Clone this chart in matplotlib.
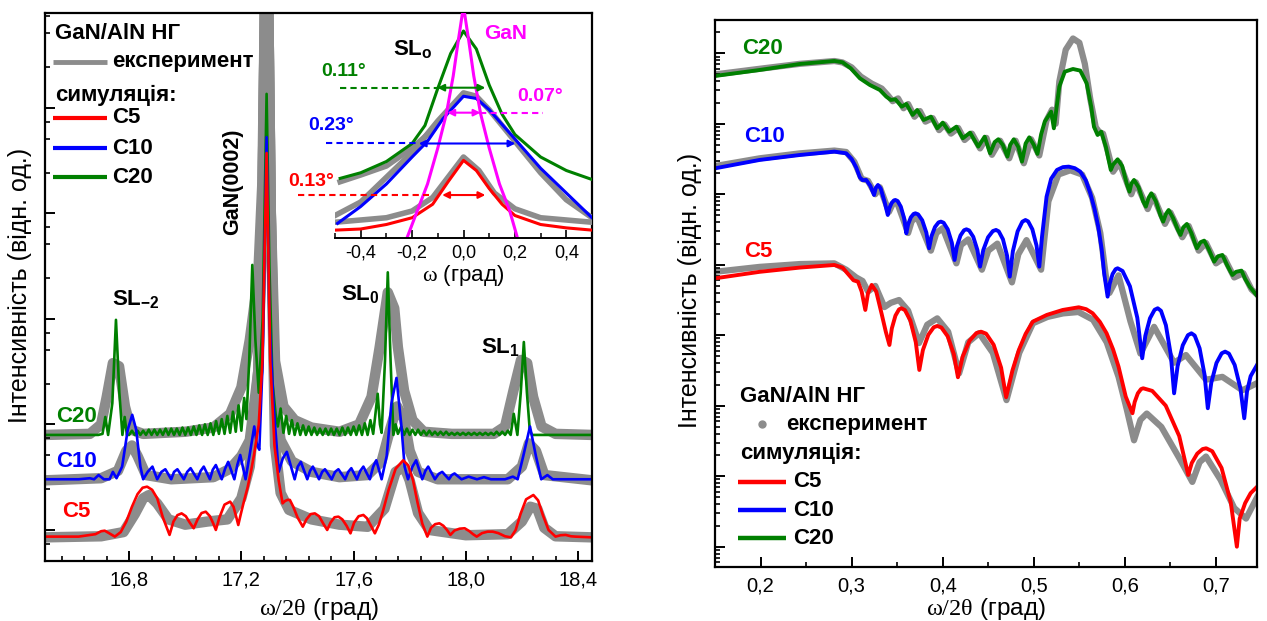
import matplotlib
matplotlib.use('Agg')
import matplotlib.pyplot as plt
import numpy as np
from matplotlib.ticker import MultipleLocator, FixedLocator, FuncFormatter

plt.rcParams['font.family'] = ['Liberation Sans', 'DejaVu Sans']
plt.rcParams['mathtext.fontset'] = 'custom'
plt.rcParams['mathtext.rm'] = 'Liberation Serif'
plt.rcParams['mathtext.it'] = 'Liberation Serif:italic'
plt.rcParams['mathtext.bf'] = 'Liberation Sans:bold'

# ---------------- data: left panel (x = omega/2theta, y = log10 intensity, arb.) -------------
C20_SIM = [(16.50,0.90),(16.69,0.90),(16.705,0.91),(16.715,1.07),(16.725,0.90),(16.740,1.20),(16.753,1.99),
 (16.765,1.30),(16.776,0.90),(16.784,1.07),(16.792,0.90),
 (16.800,0.90),(16.810,0.94),(16.820,0.90),(16.830,0.94),(16.840,0.90),(16.850,0.94),(16.860,0.90),(16.870,0.95),
 (16.880,0.90),(16.890,0.95),(16.900,0.90),(16.910,0.95),(16.920,0.90),(16.930,0.96),(16.940,0.90),(16.950,0.96),
 (16.960,0.90),(16.970,0.96),(16.980,0.90),(16.990,0.97),(17.000,0.90),(17.010,0.97),(17.020,0.90),(17.030,0.98),
 (17.040,0.90),(17.050,0.99),(17.060,0.90),(17.070,1.00),(17.080,0.90),(17.090,1.01),(17.100,0.90),(17.110,1.03),
 (17.120,0.91),(17.130,1.05),(17.140,0.91),(17.150,1.08),(17.160,0.92),(17.170,1.12),(17.180,0.93),(17.190,1.18),
 (17.200,0.94),(17.210,1.25),(17.218,1.05),(17.228,1.60),(17.239,2.51),(17.250,1.80),(17.262,1.30),(17.276,2.00),
 (17.290,4.13),(17.300,2.50),(17.311,1.40),(17.322,1.10),(17.330,0.98),(17.340,1.15),(17.350,0.92),(17.360,1.08),
 (17.370,0.91),(17.380,1.04),(17.390,0.90),(17.400,1.01),(17.410,0.90),(17.420,0.99),(17.430,0.90),(17.440,0.98),
 (17.450,0.90),(17.460,0.97),(17.470,0.90),(17.480,0.96),(17.490,0.90),(17.500,0.96),(17.510,0.90),(17.520,0.96),
 (17.530,0.90),(17.540,0.96),(17.550,0.90),(17.560,0.97),(17.570,0.90),(17.580,0.97),(17.590,0.90),(17.600,0.98),
 (17.610,0.90),(17.620,0.99),(17.630,0.90),(17.640,1.01),(17.650,0.90),(17.660,1.04),(17.670,0.91),(17.678,1.10),
 (17.686,1.29),(17.694,1.00),(17.700,0.92),(17.712,1.60),(17.722,2.44),(17.732,1.60),(17.742,0.90),(17.750,1.00),
 (17.758,0.91),(17.770,0.98),(17.780,0.90),(17.790,0.96),(17.800,0.90),(17.810,0.95),(17.820,0.90),(17.830,0.95),
 (17.840,0.90),(17.850,0.94),(17.860,0.90),(17.870,0.94),(17.880,0.90),(17.890,0.93),(17.900,0.90),(17.910,0.93),
 (17.920,0.90),(17.930,0.93),(17.940,0.90),(17.950,0.92),(17.960,0.90),(17.970,0.92),(17.980,0.90),(17.990,0.92),
 (18.000,0.90),(18.010,0.92),(18.020,0.90),(18.030,0.92),(18.040,0.90),(18.050,0.92),(18.060,0.90),(18.070,0.92),
 (18.080,0.90),(18.090,0.92),(18.100,0.90),(18.110,0.93),(18.120,0.90),(18.130,0.93),(18.140,0.90),(18.150,0.94),
 (18.160,0.90),(18.171,1.10),(18.184,0.90),(18.196,1.30),(18.207,1.78),(18.218,1.30),(18.228,0.95),(18.236,0.90),
 (18.45,0.90)]

C10_SIM = [(16.50,0.48),(16.62,0.48),(16.66,0.49),(16.675,0.48),(16.691,0.52),(16.71,0.48),(16.730,0.48),(16.742,0.55),
 (16.755,0.49),(16.775,0.60),(16.795,0.95),(16.811,1.09),(16.825,0.95),(16.840,0.60),(16.850,0.48),(16.866,0.55),
 (16.883,0.60),(16.900,0.48),(16.915,0.55),(16.929,0.575),(16.950,0.48),(16.960,0.55),(16.972,0.575),(16.995,0.48),
 (17.007,0.55),(17.019,0.585),(17.043,0.48),(17.055,0.56),(17.066,0.60),(17.088,0.48),(17.098,0.57),(17.109,0.615),
 (17.130,0.48),(17.142,0.58),(17.153,0.645),(17.175,0.48),(17.186,0.62),(17.196,0.71),(17.215,0.48),(17.232,0.75),
 (17.246,0.98),(17.256,0.80),(17.264,0.76),(17.276,1.60),(17.290,3.72),(17.300,2.00),(17.315,1.17),(17.333,0.55),
 (17.348,0.68),(17.362,0.74),(17.390,0.48),(17.401,0.60),(17.412,0.645),(17.435,0.48),(17.445,0.56),(17.455,0.60),
 (17.477,0.48),(17.488,0.55),(17.498,0.575),(17.522,0.48),(17.534,0.55),(17.546,0.575),(17.570,0.48),(17.581,0.55),
 (17.592,0.585),(17.612,0.48),(17.624,0.56),(17.635,0.60),(17.658,0.48),(17.670,0.60),(17.681,0.66),(17.700,0.48),
 (17.718,0.70),(17.735,1.20),(17.753,1.44),(17.770,1.00),(17.782,0.60),(17.794,0.48),(17.810,0.60),(17.823,0.66),
 (17.845,0.48),(17.856,0.56),(17.866,0.60),(17.890,0.48),(17.903,0.53),(17.916,0.55),(17.940,0.48),(17.950,0.52),
 (17.960,0.535),(17.985,0.48),(18.010,0.505),(18.040,0.48),(18.065,0.50),(18.090,0.48),(18.140,0.48),(18.168,0.505),
 (18.185,0.48),(18.205,0.70),(18.229,0.98),(18.250,0.70),(18.269,0.48),(18.291,0.52),(18.310,0.48),(18.45,0.48)]

C5_SIM = [(16.50,-0.063),(16.62,-0.063),(16.68,-0.04),(16.700,-0.012),(16.713,-0.007),(16.728,-0.03),(16.749,-0.063),
 (16.770,-0.02),(16.790,0.08),(16.810,0.22),(16.830,0.34),(16.848,0.40),(16.864,0.41),(16.882,0.38),(16.900,0.30),
 (16.920,0.12),(16.944,-0.047),(16.958,0.08),(16.972,0.14),(16.987,0.157),(17.002,0.13),(17.016,0.07),(17.030,0.016),
 (17.044,0.10),(17.058,0.16),(17.073,0.173),(17.088,0.13),(17.100,0.06),(17.109,0.000),(17.122,0.12),(17.140,0.24),
 (17.160,0.268),(17.172,0.22),(17.182,0.12),(17.189,0.047),(17.198,0.15),(17.210,0.28),(17.222,0.40),(17.234,0.55),
 (17.246,0.725),(17.262,1.00),(17.275,1.60),(17.290,3.57),(17.303,1.60),(17.318,0.80),(17.333,0.47),(17.347,0.252),
 (17.356,0.275),(17.365,0.285),(17.373,0.284),(17.385,0.22),(17.400,0.12),(17.419,0.031),(17.432,0.10),(17.447,0.15),
 (17.462,0.157),(17.477,0.13),(17.492,0.06),(17.506,0.000),(17.518,0.07),(17.532,0.12),(17.546,0.126),(17.560,0.10),
 (17.575,0.04),(17.589,-0.032),(17.602,0.07),(17.618,0.13),(17.635,0.142),(17.648,0.11),(17.662,0.04),(17.676,-0.032),
 (17.690,0.05),(17.705,0.18),(17.725,0.38),(17.750,0.58),(17.777,0.66),(17.795,0.61),(17.812,0.47),(17.828,0.26),
 (17.845,0.06),(17.863,-0.063),(17.876,0.02),(17.891,0.055),(17.906,0.063),(17.920,0.04),(17.933,0.00),(17.945,-0.047),
 (17.960,-0.005),(17.978,0.012),(17.996,0.016),(18.012,-0.01),(18.026,-0.04),(18.039,-0.063),(18.058,-0.03),
 (18.078,-0.016),(18.096,-0.016),(18.116,-0.03),(18.140,-0.06),(18.161,-0.070),(18.178,0.00),(18.195,0.15),
 (18.215,0.29),(18.241,0.331),(18.258,0.28),(18.275,0.14),(18.295,0.00),(18.320,-0.063),(18.338,-0.05),(18.356,-0.047),
 (18.375,-0.06),(18.390,-0.063),(18.45,-0.070)]

C20_EXP = [(16.50,0.90),(16.66,0.91),(16.70,1.00),(16.72,1.26),(16.742,1.58),(16.764,1.55),(16.785,1.17),(16.807,0.95),
 (16.85,0.91),(17.00,0.93),(17.10,0.97),(17.16,1.10),(17.20,1.35),(17.23,1.80),(17.26,2.40),(17.275,3.30),(17.285,5.20),
 (17.295,5.20),(17.305,3.00),(17.32,1.60),(17.35,1.17),(17.39,1.04),(17.45,0.97),(17.55,0.93),(17.62,1.00),(17.664,1.26),
 (17.693,1.73),(17.722,2.25),(17.745,2.10),(17.758,1.73),(17.78,1.32),(17.81,1.04),(17.85,0.93),(17.95,0.91),
 (18.10,0.91),(18.14,0.98),(18.17,1.32),(18.197,1.61),(18.219,1.58),(18.24,1.26),(18.27,0.98),(18.32,0.91),(18.45,0.90)]

C10_EXP = [(16.50,0.47),(16.70,0.49),(16.76,0.56),(16.79,0.75),(16.81,0.80),(16.83,0.70),(16.86,0.52),(16.95,0.48),
 (17.10,0.50),(17.16,0.58),(17.20,0.70),(17.23,0.85),(17.26,1.50),(17.275,3.00),(17.285,5.20),(17.295,5.20),
 (17.305,3.00),(17.32,1.20),(17.34,0.85),(17.38,0.65),(17.45,0.55),(17.55,0.50),(17.65,0.52),(17.70,0.65),(17.73,0.95),
 (17.755,1.17),(17.78,1.05),(17.80,0.75),(17.83,0.55),(17.90,0.48),(18.15,0.48),(18.20,0.60),(18.225,0.82),(18.25,0.75),
 (18.28,0.52),(18.45,0.47)]

C5_EXP = [(16.50,-0.07),(16.70,-0.06),(16.78,-0.02),(16.82,0.15),(16.85,0.30),(16.87,0.33),(16.90,0.25),(16.94,0.10),
 (17.00,0.05),(17.08,0.08),(17.15,0.10),(17.20,0.30),(17.23,0.60),(17.26,1.50),(17.275,3.00),(17.285,5.20),(17.295,5.20),
 (17.305,3.00),(17.32,0.80),(17.34,0.35),(17.37,0.19),(17.45,0.10),(17.55,0.05),(17.65,0.03),(17.71,0.20),(17.75,0.55),
 (17.78,0.60),(17.80,0.47),(17.83,0.16),(17.87,0.00),(18.00,-0.05),(18.15,-0.04),(18.20,0.08),(18.23,0.22),(18.255,0.20),
 (18.28,0.02),(18.32,-0.06),(18.45,-0.07)]

# ---------------- data: inset (omega rocking curves, normalised) ----------------
INS_GAN = [(-0.22,0.0),(-0.18,0.12),(-0.14,0.24),(-0.10,0.40),(-0.067,0.55),(-0.04,0.72),(-0.02,0.88),(0.0,1.03),
 (0.02,0.88),(0.04,0.72),(0.067,0.55),(0.10,0.40),(0.14,0.24),(0.18,0.12),(0.21,0.0)]
INS_C20 = [(-0.48,0.265),(-0.40,0.29),(-0.30,0.34),(-0.20,0.42),(-0.15,0.50),(-0.10,0.665),(-0.05,0.82),(0.0,0.92),
 (0.05,0.84),(0.10,0.68),(0.15,0.55),(0.20,0.46),(0.30,0.36),(0.40,0.30),(0.50,0.26)]
INS_C10 = [(-0.49,0.065),(-0.40,0.14),(-0.30,0.24),(-0.20,0.36),(-0.14,0.43),(-0.08,0.53),(0.0,0.63),(0.05,0.62),
 (0.10,0.57),(0.20,0.44),(0.30,0.31),(0.40,0.20),(0.50,0.09)]
INS_C5 = [(-0.50,0.035),(-0.40,0.04),(-0.30,0.06),(-0.20,0.09),(-0.12,0.15),(-0.06,0.25),(0.0,0.345),(0.05,0.30),
 (0.10,0.22),(0.15,0.15),(0.20,0.10),(0.30,0.06),(0.40,0.045),(0.50,0.035)]
INS_C10_EXP = [(-0.50,0.10),(-0.40,0.16),(-0.30,0.27),(-0.20,0.38),(-0.10,0.52),(0.0,0.645),(0.05,0.63),(0.10,0.57),
 (0.20,0.43),(0.30,0.29),(0.40,0.17),(0.50,0.09)]
INS_C5_EXP = [(-0.50,0.07),(-0.40,0.08),(-0.30,0.09),(-0.20,0.12),(-0.12,0.18),(-0.06,0.27),(0.0,0.36),(0.06,0.30),
 (0.12,0.20),(0.20,0.13),(0.30,0.09),(0.40,0.08),(0.50,0.07)]
INS_C20_EXP = [(-0.48,0.25),(-0.40,0.28),(-0.30,0.32),(-0.20,0.40),(-0.12,0.48)]

# ---------------- data: right panel (x = omega/2theta, y = log10 intensity) ----------------
R_C20_SIM = [(0.150,6.678),(0.199,6.763),(0.243,6.848),(0.281,6.891),(0.290,6.872),(0.299,6.787),(0.309,6.645),
 (0.320,6.550),(0.331,6.479),(0.338,6.385),(0.343,6.338),(0.348,6.347),(0.355,6.243),(0.360,6.281),(0.367,6.125),
 (0.372,6.196),(0.379,6.054),(0.387,6.101),(0.394,5.936),(0.400,6.016),(0.407,5.888),(0.415,5.959),(0.422,5.794),
 (0.430,5.874),(0.439,5.676),(0.446,5.817),(0.452,5.581),(0.457,5.74),(0.461,5.780),(0.466,5.70),(0.471,5.534),
 (0.474,5.70),(0.478,5.780),(0.483,5.67),(0.487,5.463),(0.491,5.72),(0.495,5.808),(0.500,5.70),(0.504,5.572),
 (0.508,5.85),(0.512,6.030),(0.519,6.172),(0.522,5.936),(0.528,6.527),(0.534,6.739),(0.543,6.777),(0.551,6.754),
 (0.558,6.574),(0.563,6.243),(0.566,5.959),(0.570,5.841),(0.574,5.888),(0.579,5.676),(0.5845,5.345),(0.587,5.42),
 (0.592,5.496),(0.597,5.40),(0.602,5.15),(0.605,5.037),(0.607,5.15),(0.610,5.203),(0.615,5.10),(0.620,4.90),
 (0.623,4.825),(0.626,4.95),(0.629,5.014),(0.634,4.90),(0.639,4.70),(0.642,4.612),(0.645,4.72),(0.648,4.777),
 (0.653,4.66),(0.658,4.50),(0.661,4.423),(0.664,4.53),(0.668,4.579),(0.673,4.45),(0.677,4.30),(0.679,4.234),
 (0.683,4.32),(0.687,4.342),(0.692,4.22),(0.696,4.10),(0.698,4.044),(0.702,4.12),(0.707,4.139),(0.712,4.00),
 (0.716,3.90),(0.718,3.855),(0.722,3.90),(0.728,3.917),(0.732,3.80),(0.737,3.690),(0.745,3.560)]
R_C20_EXP = [(0.150,6.70),(0.199,6.78),(0.243,6.85),(0.281,6.89),(0.290,6.87),(0.300,6.80),(0.310,6.67),(0.322,6.57),
 (0.333,6.50),(0.340,6.40),(0.345,6.32),(0.351,6.36),(0.357,6.22),(0.362,6.28),(0.369,6.10),(0.375,6.18),(0.381,6.03),
 (0.389,6.08),(0.396,5.91),(0.402,5.99),(0.409,5.86),(0.417,5.94),(0.424,5.77),(0.432,5.86),(0.441,5.65),(0.448,5.80),
 (0.454,5.56),(0.463,5.76),(0.473,5.51),(0.480,5.76),(0.489,5.44),(0.497,5.78),(0.506,5.55),(0.514,6.05),(0.520,6.20),
 (0.524,6.00),(0.528,6.60),(0.535,7.05),(0.543,7.21),(0.550,7.15),(0.556,6.85),(0.562,6.35),(0.568,5.95),(0.572,5.88),
 (0.576,5.86),(0.581,5.62),(0.587,5.32),(0.594,5.45),(0.607,5.00),(0.612,5.17),(0.625,4.79),(0.631,4.98),(0.644,4.58),
 (0.650,4.74),(0.663,4.39),(0.670,4.55),(0.681,4.20),(0.689,4.31),(0.700,4.02),(0.709,4.10),(0.720,3.82),(0.730,3.88),
 (0.739,3.65),(0.745,3.58)]
R_C10_SIM = [(0.150,5.368),(0.199,5.487),(0.243,5.557),(0.281,5.605),(0.294,5.581),(0.300,5.50),(0.305,5.38),
 (0.309,5.24),(0.312,5.20),(0.316,5.203),(0.3205,5.12),(0.3246,4.990),(0.3265,5.09),(0.3289,5.132),(0.332,5.08),
 (0.336,4.90),(0.3397,4.706),(0.3414,4.802),(0.3439,4.876),(0.3464,4.913),(0.348,4.919),(0.3504,4.905),(0.354,4.824),
 (0.3576,4.659),(0.360,4.446),(0.362,4.574),(0.365,4.673),(0.368,4.721),(0.370,4.730),(0.373,4.715),(0.3775,4.631),
 (0.382,4.457),(0.385,4.234),(0.3876,4.404),(0.3915,4.536),(0.3954,4.601),(0.398,4.612),(0.401,4.596),(0.4055,4.503),
 (0.410,4.313),(0.413,4.068),(0.4156,4.264),(0.4195,4.416),(0.4234,4.490),(0.426,4.503),(0.429,4.487),(0.4335,4.397),
 (0.438,4.212),(0.441,3.974),(0.4445,4.208),(0.44975,4.390),(0.4550,4.478),(0.4585,4.494),(0.4615,4.474),
 (0.4661,4.362),(0.4706,4.130),(0.4736,3.832),(0.477,4.193),(0.4822,4.474),(0.4874,4.611),(0.4908,4.635),
 (0.4938,4.615),(0.4984,4.503),(0.503,4.271),(0.506,3.974),(0.509,4.40),(0.514,4.966),(0.519,5.22),(0.5254,5.345),
 (0.532,5.385),(0.5383,5.392),(0.545,5.37),(0.551,5.321),(0.557,5.20),(0.562,5.014),(0.5665,4.80),(0.5707,4.541),
 (0.5745,4.22),(0.5772,3.879),(0.581,3.548),(0.5832,3.729),(0.5865,3.870),(0.5898,3.938),(0.592,3.950),(0.5974,3.912),
 (0.6055,3.695),(0.6136,3.248),(0.619,2.674),(0.6224,2.993),(0.6275,3.241),(0.6326,3.362),(0.636,3.383),(0.6396,3.347),
 (0.645,3.142),(0.6504,2.720),(0.654,2.177),(0.6578,2.560),(0.6635,2.858),(0.6692,3.002),(0.673,3.028),(0.6766,2.996),
 (0.682,2.815),(0.6874,2.443),(0.691,1.965),(0.6948,2.326),(0.7005,2.607),(0.7062,2.744),(0.710,2.768),(0.7142,2.740),
 (0.7205,2.579),(0.7268,2.248),(0.731,1.823),(0.734,2.20),(0.738,2.42),(0.745,2.579)]
R_C10_EXP = [(0.150,5.40),(0.199,5.51),(0.243,5.58),(0.281,5.62),(0.294,5.60),(0.303,5.46),(0.311,5.22),(0.318,5.19),
 (0.326,5.00),(0.331,5.10),(0.341,4.75),(0.345,4.86),(0.350,4.88),(0.362,4.45),(0.366,4.62),(0.372,4.68),(0.387,4.20),
 (0.393,4.45),(0.400,4.52),(0.415,4.02),(0.420,4.28),(0.428,4.36),(0.443,3.93),(0.450,4.20),(0.460,4.30),(0.476,3.75),
 (0.483,4.15),(0.492,4.35),(0.508,3.93),(0.516,4.90),(0.527,5.28),(0.540,5.34),(0.553,5.28),(0.564,4.95),(0.573,4.45),
 (0.579,3.85),(0.583,3.60),(0.593,3.85),(0.606,3.20),(0.617,2.74),(0.632,3.12),(0.654,2.61),(0.667,2.72),(0.689,2.37),
 (0.707,2.41),(0.729,2.22),(0.745,2.32)]
R_C5_SIM = [(0.150,3.808),(0.199,3.900),(0.243,3.960),(0.281,3.997),(0.290,3.96),(0.296,3.87),(0.302,3.78),
 (0.307,3.76),(0.311,3.62),(0.315,3.359),(0.318,3.60),(0.322,3.714),(0.327,3.62),(0.333,3.30),(0.3375,3.05),
 (0.3415,2.862),(0.3441,3.096),(0.3481,3.279),(0.352,3.367),(0.3546,3.383),(0.3585,3.357),(0.3645,3.208),
 (0.3704,2.902),(0.3743,2.508),(0.3782,2.789),(0.3842,3.007),(0.3901,3.113),(0.394,3.132),(0.3985,3.110),
 (0.4054,2.986),(0.4122,2.732),(0.4167,2.404),(0.4218,2.695),(0.4294,2.922),(0.437,3.032),(0.4421,3.051),
 (0.4476,3.023),(0.4559,2.865),(0.4641,2.540),(0.4696,2.121),(0.4765,2.50),(0.4836,2.792),(0.4910,3.02),(0.4989,3.194),
 (0.5143,3.289),(0.5317,3.359),(0.5493,3.397),(0.5575,3.37),(0.5646,3.312),(0.5725,3.19),(0.5799,3.028),(0.587,2.80),
 (0.593,2.555),(0.6009,2.130),(0.6083,1.894),(0.6107,2.053),(0.6142,2.177),(0.6177,2.237),(0.6201,2.248),(0.630,2.211),
 (0.6448,2.002),(0.6596,1.571),(0.6695,1.018),(0.6734,1.189),(0.6794,1.321),(0.6853,1.386),(0.6892,1.397),
 (0.6959,1.355),(0.7061,1.118),(0.7162,0.629),(0.7229,0.001),(0.726,0.40),(0.732,0.62),(0.738,0.76),(0.745,0.85)]
R_C5_EXP = [(0.150,3.90),(0.199,3.97),(0.243,4.01),(0.281,4.02),(0.294,3.93),(0.305,3.82),(0.312,3.77),(0.318,3.62),
 (0.326,3.70),(0.336,3.40),(0.343,3.46),(0.352,3.50),(0.362,3.35),(0.374,2.89),(0.383,3.15),(0.394,3.24),(0.406,3.05),
 (0.418,2.46),(0.428,2.90),(0.440,3.03),(0.455,2.75),(0.470,2.08),(0.484,2.75),(0.499,3.17),(0.515,3.26),(0.532,3.31),
 (0.549,3.33),(0.565,3.22),(0.580,2.90),(0.593,2.41),(0.602,1.95),(0.610,1.51),(0.617,1.80),(0.624,1.89),(0.640,1.70),
 (0.660,1.25),(0.674,0.92),(0.682,1.20),(0.689,1.28),(0.705,0.95),(0.720,0.55),(0.733,0.40),(0.745,0.70)]

LEFT_XTICKS = [16.8, 17.2, 17.6, 18.0, 18.4]
RIGHT_XTICKS = [0.2, 0.3, 0.4, 0.5, 0.6, 0.7]
INSET_XTICKS = [-0.4, -0.2, 0.0, 0.2, 0.4]

# ---------------- style ----------------
RED, BLUE, GREEN, MAG, GRAY = '#ff0000', '#0000ff', '#008000', '#ff00ff', '#8c8c8c'
W, H = 1267, 621


def xy(pairs):
    a = np.array(pairs, dtype=float)
    return a[:, 0], a[:, 1]


def comma(v, pos=None):
    if abs(v) < 1e-9:
        v = 0.0
    return f'{v:.1f}'.replace('.', ',')


fig = plt.figure(figsize=(W / 100, H / 100), dpi=100)


def box(x0, y0, x1, y1):
    return [x0 / W, 1 - y1 / H, (x1 - x0) / W, (y1 - y0) / H]


axL = fig.add_axes(box(45, 13, 592, 561))
axR = fig.add_axes(box(715, 20, 1257, 567))
axI = fig.add_axes(box(335, 13, 592, 238))
axI.patch.set_alpha(0)

for ax in (axL, axR):
    for s in ax.spines.values():
        s.set_linewidth(1.6)
    ax.tick_params(which='both', direction='in', top=False, right=False, labelleft=False,
                   labelsize=14.5, pad=7)
    ax.tick_params(which='major', length=7, width=1.4)
    ax.tick_params(which='minor', length=3.5, width=1.2)

# ---- left panel ----
for data in (C20_EXP, C10_EXP, C5_EXP):
    x, y = xy(data)
    axL.plot(x, y, color=GRAY, lw=7.5, solid_joinstyle='round', zorder=1)
for data, c in ((C20_SIM, GREEN), (C10_SIM, BLUE), (C5_SIM, RED)):
    x, y = xy(data)
    axL.plot(x, y, color=c, lw=1.9, zorder=2)
axL.set_xlim(16.5, 18.45)
axL.set_ylim(-0.294, 4.896)
axL.xaxis.set_major_locator(FixedLocator(LEFT_XTICKS))
axL.xaxis.set_minor_locator(MultipleLocator(0.08))
axL.xaxis.set_major_formatter(FuncFormatter(comma))
axL.yaxis.set_major_locator(FixedLocator([0, 1, 2, 3, 4]))
axL.yaxis.set_minor_locator(FixedLocator([k + f for k in range(-1, 5) for f in (0.384, 0.706, 0.867)]))

tb = dict(fontsize=16, fontweight='bold', transform=axL.transAxes, va='center')
axL.text(0.0183, 0.9635, 'GaN/AlN НГ', ha='left', **tb)
axL.text(0.1225, 0.9106, 'експеримент', ha='left', **tb)
axL.text(0.0183, 0.8504, 'симуляція:', ha='left', **tb)
for fy, c, lab in ((0.9106, GRAY, None), (0.8084, RED, 'C5'), (0.7536, BLUE, 'C10'), (0.7007, GREEN, 'C20')):
    axL.plot([0.0146, 0.1133], [fy, fy], transform=axL.transAxes, color=c, lw=3 if c != GRAY else 3.5,
             solid_capstyle='butt')
    if lab:
        axL.text(0.1225, fy, lab, ha='left', **tb)
axL.text(0.0201, 0.2628, 'C20', color=GREEN, ha='left', **tb)
axL.text(0.0201, 0.1807, 'C10', color=BLUE, ha='left', **tb)
axL.text(0.031, 0.0912, 'C5', color=RED, ha='left', **tb)
axL.text(0.3437, 0.6916, 'GaN(0002)', rotation=90, ha='center', fontsize=15.5, fontweight='bold',
         transform=axL.transAxes, va='center')
axL.text(0.1664, 0.4763, r'$\mathbf{SL_{-2}}$', ha='center', va='center', fontsize=16, transform=axL.transAxes)
axL.text(0.5759, 0.4854, r'$\mathbf{SL_{0}}$', ha='center', va='center', fontsize=16, transform=axL.transAxes)
axL.text(0.8318, 0.3887, r'$\mathbf{SL_{1}}$', ha='center', va='center', fontsize=16, transform=axL.transAxes)

# ---- inset ----
for data in (INS_C10_EXP, INS_C5_EXP, INS_C20_EXP):
    x, y = xy(data)
    axI.plot(x, y, color=GRAY, lw=4, zorder=1)
for data, c in ((INS_C20, GREEN), (INS_C10, BLUE), (INS_C5, RED), (INS_GAN, MAG)):
    x, y = xy(data)
    axI.plot(x, y, color=c, lw=2.2, zorder=2)
axI.set_xlim(-0.5, 0.5)
axI.set_ylim(0, 1)
for k in ('top', 'left', 'right'):
    axI.spines[k].set_visible(False)
axI.spines['bottom'].set_linewidth(1.4)
axI.yaxis.set_visible(False)
axI.xaxis.set_major_locator(FixedLocator(INSET_XTICKS))
axI.xaxis.set_minor_locator(MultipleLocator(0.1))
axI.xaxis.set_major_formatter(FuncFormatter(comma))
axI.tick_params(which='both', direction='in', labelsize=13, pad=5)
axI.tick_params(which='major', length=6, width=1.2)
axI.tick_params(which='minor', length=3.5, width=1.1)
axI.set_xlabel(r'$\mathrm{\omega}$ (град)', fontsize=16, labelpad=1)

dash = (0, (3, 2))
for (xa, xb), (aa, ab), v, c in (((-0.48, -0.102), (-0.102, 0.085), 0.668, GREEN),
                                 ((0.066, 0.31), (-0.063, 0.066), 0.557, MAG),
                                 ((-0.535, -0.174), (-0.174, 0.202), 0.42, BLUE),
                                 ((-0.643, -0.136), (-0.083, 0.085), 0.191, RED)):
    axI.plot([xa, xb], [v, v], ls=dash, color=c, lw=1.5, clip_on=False, zorder=3)
    axI.annotate('', xy=(ab, v), xytext=(aa, v),
                 arrowprops=dict(arrowstyle='<|-|>', color=c, lw=1.5, mutation_scale=10,
                                 shrinkA=0, shrinkB=0), zorder=3)
ti = dict(fontsize=14, fontweight='bold', ha='center', va='center')
axI.text(-0.465, 0.738, '0.11°', color=GREEN, **ti)
axI.text(0.298, 0.627, '0.07°', color=MAG, **ti)
axI.text(-0.516, 0.498, '0.23°', color=BLUE, **ti)
axI.text(-0.593, 0.249, '0.13°', color=RED, **ti)
axI.text(0.163, 0.911, 'GaN', color=MAG, fontsize=15, fontweight='bold', ha='center', va='center')
axI.text(-0.198, 0.836, r'$\mathbf{SL_{o}}$', fontsize=16, ha='center', va='center')

# ---- right panel ----
for exp, sim, c in ((R_C20_EXP, R_C20_SIM, GREEN), (R_C10_EXP, R_C10_SIM, BLUE), (R_C5_EXP, R_C5_SIM, RED)):
    x, y = xy(exp)
    axR.plot(x, y, color=GRAY, lw=4.5, solid_joinstyle='round', zorder=1)
    x, y = xy(sim)
    axR.plot(x, y, color=c, lw=2.8, solid_joinstyle='round', zorder=2)
axR.set_xlim(0.15, 0.745)
axR.set_ylim(-0.287, 7.472)
axR.xaxis.set_major_locator(FixedLocator(RIGHT_XTICKS))
axR.xaxis.set_minor_locator(MultipleLocator(0.05))
axR.xaxis.set_major_formatter(FuncFormatter(comma))
axR.yaxis.set_major_locator(FixedLocator(list(range(0, 8))))
axR.yaxis.set_minor_locator(FixedLocator([k + np.log10(m) for k in range(-1, 8) for m in range(2, 10)]))

tr = dict(fontsize=16, fontweight='bold', transform=axR.transAxes, va='center', ha='left')
axR.text(0.0498, 0.9470, 'C20', color=GREEN, **tr)
axR.text(0.0535, 0.7879, 'C10', color=BLUE, **tr)
axR.text(0.0535, 0.5759, 'C5', color=RED, **tr)
axR.text(0.0461, 0.3126, 'GaN/AlN НГ', **tr)
axR.plot([0.0867], [0.2614], 'o', color=GRAY, ms=5, transform=axR.transAxes)
axR.text(0.131, 0.2614, 'експеримент', **tr)
axR.text(0.0461, 0.2084, 'симуляція:', **tr)
for fy, c, lab in ((0.1554, RED, 'C5'), (0.1042, BLUE, 'C10'), (0.0530, GREEN, 'C20')):
    axR.plot([0.0424, 0.131], [fy, fy], transform=axR.transAxes, color=c, lw=3.2, solid_capstyle='butt')
    axR.text(0.1439, fy, lab, **tr)

# ---- axis titles ----
ylab = 'Інтенсивність (відн. од.)'
fig.text(20 / W, 1 - 285 / H, ylab, rotation=90, ha='center', va='center', fontsize=18)
fig.text(690 / W, 1 - 290 / H, ylab, rotation=90, ha='center', va='center', fontsize=18)
xlab = r'$\mathrm{\omega/2\theta}$ (град)'
fig.text(318.5 / W, 1 - 609 / H, xlab, ha='center', va='center', fontsize=17.5)
fig.text(986 / W, 1 - 609 / H, xlab, ha='center', va='center', fontsize=17.5)

fig.savefig('out.png', dpi=100)
